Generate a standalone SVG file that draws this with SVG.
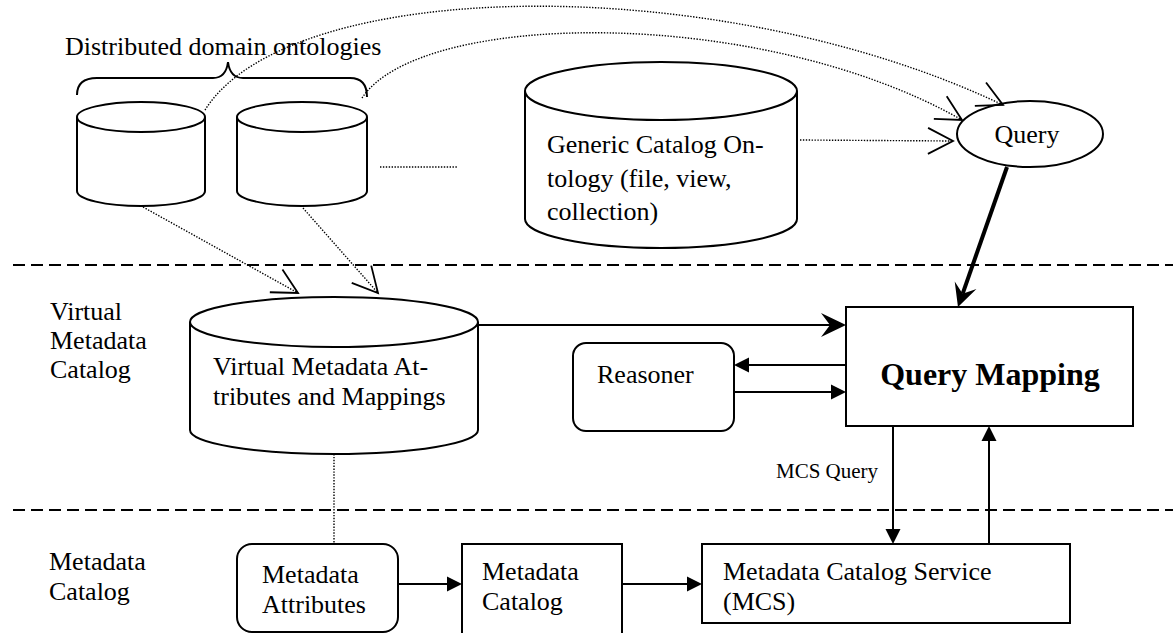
<svg xmlns="http://www.w3.org/2000/svg" width="1173" height="633" viewBox="0 0 1173 633">
  <style>
    text { font-family: "Liberation Serif", "Times New Roman", serif; fill: #000; }
    .t { font-size: 26px; }
    .small { font-size: 21px; }
    .big { font-size: 32px; font-weight: bold; }
    .shape { fill: #fff; stroke: #000; stroke-width: 2; }
    .line { fill: none; stroke: #000; stroke-width: 2; }
    .bold { fill: none; stroke: #000; stroke-width: 4; }
    .dot { fill: none; stroke: #000; stroke-width: 1.4; stroke-dasharray: 1.4 1.5; }
    .dash { fill: none; stroke: #000; stroke-width: 2; stroke-dasharray: 12 6; }
  </style>
  <defs>
    <!-- open V head for dotted links -->
    <marker id="open" markerUnits="userSpaceOnUse" viewBox="-30 -16 34 32" markerWidth="34" markerHeight="32" refX="0" refY="0" orient="auto" overflow="visible">
      <path d="M-25,-13 L0,0 L-25,13" fill="none" stroke="#000" stroke-width="1.8"/>
    </marker>
    <!-- barbed head; path ends at the notch -->
    <marker id="barb" markerUnits="userSpaceOnUse" viewBox="-12 -14 32 28" markerWidth="32" markerHeight="28" refX="0" refY="0" orient="auto" overflow="visible">
      <path d="M16,0 L-9,-12 L0,0 L-9,12 Z" fill="#000"/>
    </marker>
    <marker id="barbBold" markerUnits="userSpaceOnUse" viewBox="-12 -14 30 28" markerWidth="30" markerHeight="28" refX="0" refY="0" orient="auto" overflow="visible">
      <path d="M14,0 L-9,-11.5 L0,0 L-9,11.5 Z" fill="#000"/>
    </marker>
    <!-- filled triangle; tip 3px beyond the path end -->
    <marker id="tri" markerUnits="userSpaceOnUse" viewBox="-14 -9 18 18" markerWidth="18" markerHeight="18" refX="0" refY="0" orient="auto" overflow="visible">
      <path d="M3,0 L-12,-7.5 L-12,7.5 Z" fill="#000"/>
    </marker>
  </defs>

  <!-- layer separators -->
  <g id="separators">
    <line class="dash" x1="13" y1="265" x2="1173" y2="265"/>
    <line class="dash" x1="13" y1="510" x2="1173" y2="510"/>
  </g>

  <!-- layer labels -->
  <g id="layer-labels">
    <text class="t" x="50" y="320">Virtual</text>
    <text class="t" x="50" y="349">Metadata</text>
    <text class="t" x="50" y="378">Catalog</text>
    <text class="t" x="49" y="570">Metadata</text>
    <text class="t" x="49" y="600">Catalog</text>
  </g>

  <!-- domain ontologies -->
  <g id="domain-ontologies">
    <text class="t" x="65" y="55">Distributed domain ontologies</text>
    <path class="line" d="M77,95 Q77,78 97,78 L213,78 Q226,78 228,62 Q230,78 243,78 L350,78 Q367,78 367,97"/>
  </g>
  <g id="domain-db-1">
    <path class="shape" d="M77,117 L77,191 A64,15 0 0 0 205,191 L205,117"/>
    <ellipse class="shape" cx="141" cy="117" rx="64" ry="15"/>
  </g>
  <g id="domain-db-2">
    <path class="shape" d="M237,117 L237,191 A65,15 0 0 0 367,191 L367,117"/>
    <ellipse class="shape" cx="302" cy="117" rx="65" ry="15"/>
  </g>

  <g id="generic-catalog-ontology">
    <path class="shape" d="M525,91 L525,219 A136,29 0 0 0 797,219 L797,91"/>
    <ellipse class="shape" cx="661" cy="91" rx="136" ry="29"/>
    <text class="t" x="547" y="153">Generic Catalog On-</text>
    <text class="t" x="547" y="187">tology (file, view,</text>
    <text class="t" x="547" y="220">collection)</text>
  </g>

  <g id="query">
    <ellipse class="shape" cx="1030" cy="134" rx="73" ry="33"/>
    <text class="t" x="1027" y="143" text-anchor="middle">Query</text>
  </g>

  <g id="virtual-metadata">
    <path class="shape" d="M190,322 L190,430 A144,24 0 0 0 478,430 L478,322"/>
    <ellipse class="shape" cx="334" cy="322" rx="144" ry="25"/>
    <text class="t" x="213" y="375">Virtual Metadata At-</text>
    <text class="t" x="213" y="405">tributes and Mappings</text>
  </g>

  <g id="reasoner">
    <rect class="shape" x="573" y="343" width="161" height="88" rx="13" ry="13"/>
    <text class="t" x="597" y="383">Reasoner</text>
  </g>

  <g id="query-mapping">
    <rect class="shape" x="846" y="307" width="287" height="119"/>
    <text class="big" x="990" y="385" text-anchor="middle">Query Mapping</text>
  </g>

  <g id="metadata-attributes">
    <rect class="shape" x="237" y="544" width="161" height="88" rx="15" ry="15"/>
    <text class="t" x="262" y="583">Metadata</text>
    <text class="t" x="262" y="613">Attributes</text>
  </g>

  <g id="metadata-catalog">
    <rect class="shape" x="462" y="544" width="160" height="100"/>
    <text class="t" x="482" y="580">Metadata</text>
    <text class="t" x="482" y="610">Catalog</text>
  </g>

  <g id="mcs">
    <rect class="shape" x="702" y="544" width="368" height="79"/>
    <text class="t" x="723" y="580">Metadata Catalog Service</text>
    <text class="t" x="723" y="610">(MCS)</text>
  </g>

  <g id="connectors">
    <!-- ontology links to query -->
    <path class="dot" d="M205,110 C290,-25 720,-30 1003,105" marker-end="url(#open)"/>
    <path class="dot" d="M362,98 C420,10 760,5 962,120" marker-end="url(#open)"/>
    <line class="dot" x1="800" y1="140" x2="953" y2="141" marker-end="url(#open)"/>
    <line class="dot" x1="380" y1="167" x2="458" y2="167"/>
    <!-- domain ontologies into virtual catalog -->
    <line class="dot" x1="143" y1="207" x2="298" y2="293" marker-end="url(#open)"/>
    <line class="dot" x1="303" y1="208" x2="378" y2="293" marker-end="url(#open)"/>
    <!-- virtual catalog to metadata attributes -->
    <line class="dot" x1="334" y1="454" x2="334" y2="544"/>

    <!-- query to query mapping -->
    <line class="bold" x1="1007" y1="167" x2="962.6" y2="293.8" marker-end="url(#barbBold)"/>
    <line class="line" x1="478" y1="325" x2="830" y2="325" marker-end="url(#barb)"/>

    <!-- reasoner exchange -->
    <line class="line" x1="846" y1="365" x2="737" y2="365" marker-end="url(#tri)"/>
    <line class="line" x1="734" y1="392" x2="843" y2="392" marker-end="url(#tri)"/>

    <!-- MCS exchange -->
    <line class="line" x1="893" y1="426" x2="893" y2="541" marker-end="url(#tri)"/>
    <line class="line" x1="989" y1="544" x2="989" y2="429" marker-end="url(#tri)"/>
    <text class="small" x="776" y="478">MCS Query</text>

    <!-- metadata chain -->
    <line class="line" x1="398" y1="584" x2="459" y2="584" marker-end="url(#tri)"/>
    <line class="line" x1="622" y1="584" x2="699" y2="584" marker-end="url(#tri)"/>
  </g>
</svg>
